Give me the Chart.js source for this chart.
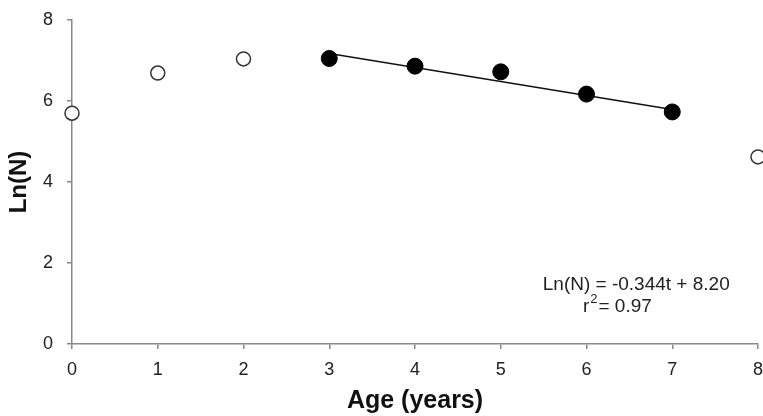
<!DOCTYPE html>
<html>
<head>
<meta charset="utf-8">
<script src="https://cdn.jsdelivr.net/npm/chart.js@4/dist/chart.umd.min.js"></script>
<style>
  html, body { margin: 0; padding: 0; background: #ffffff; }
  #wrap { width: 763px; height: 416px; position: relative; }
</style>
</head>
<body>
<div id="wrap"><canvas id="c" width="763" height="416"></canvas></div>
<script>
// ---- data ----
const openAges = [0, 1, 2, 8];
const openLnN = [5.70, 6.69, 7.04, 4.62];
const filledAges = [3, 4, 5, 6, 7];
const filledLnN = [7.05, 6.86, 6.72, 6.17, 5.73];
const fitAges = [3, 7];
const fitLnN = [7.17, 5.79];
const xTicks = [0, 1, 2, 3, 4, 5, 6, 7, 8];
const yTicks = [0, 2, 4, 6, 8];
const eqLine1 = 'Ln(N) = -0.344t + 8.20';
const eqLine2Pre = 'r';
const eqLine2Sup = '2';
const eqLine2Post = '= 0.97';
const eqPos1 = [6.58, 1.46];
const eqPos2 = [6.36, 0.92];

const toPts = (xs, ys) => xs.map((x, i) => ({ x: x, y: ys[i] }));
const FAM = '"Liberation Sans", Arial, sans-serif';

const annotate = {
  id: 'annotate',
  afterDatasetsDraw(chart) {
    const ctx = chart.ctx;
    const xs = chart.scales.x, ys = chart.scales.y;
    ctx.save();
    ctx.fillStyle = '#222';
    ctx.textBaseline = 'middle';
    ctx.font = '19px ' + FAM;
    ctx.textAlign = 'center';
    ctx.fillText(eqLine1, xs.getPixelForValue(eqPos1[0]), ys.getPixelForValue(eqPos1[1]));
    const cx = xs.getPixelForValue(eqPos2[0]);
    const cy = ys.getPixelForValue(eqPos2[1]);
    ctx.font = '19px ' + FAM;
    const wPre = ctx.measureText(eqLine2Pre).width;
    const wPost = ctx.measureText(eqLine2Post).width;
    ctx.font = '13px ' + FAM;
    const wSup = ctx.measureText(eqLine2Sup).width + 2;
    const x0 = cx - (wPre + wSup + wPost) / 2;
    ctx.textAlign = 'left';
    ctx.font = '19px ' + FAM;
    ctx.fillText(eqLine2Pre, x0, cy);
    ctx.font = '13px ' + FAM;
    ctx.fillText(eqLine2Sup, x0 + wPre + 1, cy - 7);
    ctx.font = '19px ' + FAM;
    ctx.fillText(eqLine2Post, x0 + wPre + wSup, cy);
    ctx.restore();
  }
};

const bg = {
  id: 'bg',
  beforeDraw(chart) {
    const ctx = chart.ctx;
    ctx.save();
    ctx.fillStyle = '#ffffff';
    ctx.fillRect(0, 0, chart.width, chart.height);
    ctx.restore();
  }
};

new Chart(document.getElementById('c'), {
  type: 'scatter',
  data: {
    datasets: [
      {
        label: 'fit',
        data: toPts(fitAges, fitLnN),
        showLine: true,
        borderColor: '#111',
        borderWidth: 1.5,
        pointRadius: 0,
        order: 3
      },
      {
        label: 'filled',
        data: toPts(filledAges, filledLnN),
        backgroundColor: '#000',
        borderColor: '#000',
        pointRadius: 8,
        pointBorderWidth: 1,
        order: 2
      },
      {
        label: 'open',
        data: toPts(openAges, openLnN),
        backgroundColor: '#fff',
        borderColor: '#333',
        pointRadius: 7,
        pointBorderWidth: 1.5,
        order: 1
      }
    ]
  },
  options: {
    responsive: false,
    animation: false,
    clip: false,
    layout: { autoPadding: false, padding: { top: 20, right: 5, left: 0, bottom: 0 } },
    plugins: { legend: { display: false }, tooltip: { enabled: false } },
    scales: {
      x: {
        type: 'linear',
        min: 0, max: 8,
        afterBuildTicks: (ax) => { ax.ticks = xTicks.map(v => ({ value: v })); },
        afterFit: (ax) => { ax.height = 72; ax.paddingLeft = 0; ax.paddingRight = 0; },
        grid: { drawOnChartArea: false, drawTicks: true, tickLength: 5, color: '#888', lineWidth: 1.5 },
        border: { display: true, color: '#888', width: 1.5 },
        ticks: { color: '#222', font: { size: 18, family: FAM }, padding: 10, maxRotation: 0 },
        title: { display: true, text: 'Age (years)', color: '#111', font: { size: 25, weight: 'bold', family: FAM }, padding: { top: 0, bottom: 0 } }
      },
      y: {
        type: 'linear',
        min: 0, max: 8,
        afterBuildTicks: (ax) => { ax.ticks = yTicks.map(v => ({ value: v })); },
        afterFit: (ax) => { ax.width = 72; ax.paddingTop = 0; ax.paddingBottom = 0; },
        grid: { drawOnChartArea: false, drawTicks: true, tickLength: 5, color: '#888', lineWidth: 1.5 },
        border: { display: true, color: '#888', width: 1.5 },
        ticks: { color: '#222', font: { size: 18, family: FAM }, padding: 14 },
        title: { display: true, text: 'Ln(N)', color: '#111', font: { size: 24, weight: 'bold', family: FAM }, padding: { top: 4.6, bottom: 0 } }
      }
    }
  },
  plugins: [bg, annotate]
});
</script>
</body>
</html>
